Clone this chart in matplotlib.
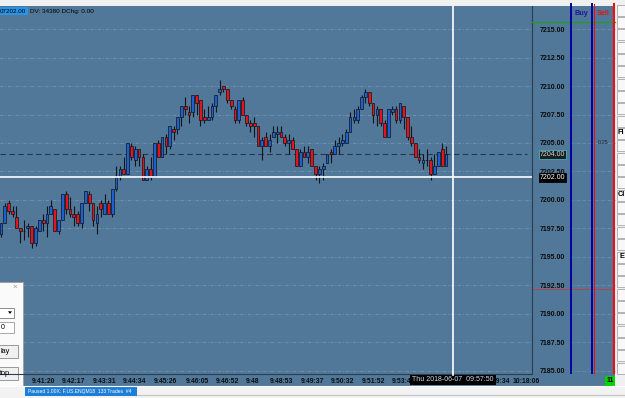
import matplotlib
matplotlib.use("Agg")
import matplotlib.pyplot as plt
from matplotlib.patches import Rectangle, Polygon
import numpy as np

plt.rcParams['font.family'] = ['Liberation Sans', 'DejaVu Sans']

# ---------------- data ----------------
opens = [7197.0, 7198.0, 7199.75, 7199.0, 7198.5, 7197.5, 7197.25, 7197.5, 7197.75, 7196.25,
         7197.25, 7198.25, 7198.0, 7198.75, 7199.25, 7197.25, 7198.25, 7200.5, 7199.25, 7198.75,
         7198.75, 7198.0, 7199.75, 7200.5, 7199.75, 7198.0, 7199.75, 7198.75, 7199.75, 7198.75,
         7201.0, 7202.0, 7202.75, 7202.25, 7204.75, 7203.5, 7204.5, 7203.75, 7201.75, 7202.75,
         7202.0, 7205.0, 7203.75, 7205.5, 7204.75, 7206.25, 7206.25, 7207.25, 7208.25, 7207.75,
         7207.75, 7209.25, 7208.75, 7207.25, 7207.0, 7207.25, 7208.25, 7209.5, 7210.0, 7209.75,
         7208.75, 7208.0, 7207.0, 7208.75, 7207.5, 7206.75, 7206.75, 7206.5, 7204.75, 7205.5,
         7204.75, 7205.5, 7205.75, 7206.0, 7205.5, 7205.0, 7205.25, 7204.5, 7203.0, 7204.25,
         7203.75, 7204.5, 7203.0, 7202.25, 7202.75, 7203.25, 7204.25, 7204.0, 7204.75, 7205.0,
         7205.0, 7206.0, 7207.0, 7207.0, 7208.0, 7209.0, 7209.5, 7208.5, 7207.5, 7208.0,
         7206.75, 7205.5, 7207.75, 7208.0, 7207.0, 7208.25, 7207.25, 7205.5, 7205.0, 7203.75,
         7203.25, 7203.5, 7203.5, 7202.25, 7203.0, 7204.5, 7203.0]
highs = [7198.0, 7199.75, 7200.0, 7199.5, 7199.5, 7197.5, 7198.25, 7198.0, 7197.75, 7197.75,
         7198.25, 7198.75, 7199.5, 7200.0, 7199.25, 7198.25, 7200.5, 7200.75, 7200.25, 7199.5,
         7199.0, 7199.75, 7200.75, 7200.75, 7199.75, 7199.5, 7200.0, 7200.5, 7200.0, 7201.0,
         7203.0, 7203.0, 7203.75, 7205.0, 7205.0, 7204.75, 7204.5, 7204.0, 7203.0, 7203.75,
         7205.0, 7205.25, 7205.5, 7205.75, 7206.5, 7206.5, 7207.25, 7208.25, 7209.0, 7208.25,
         7209.25, 7209.25, 7208.75, 7208.0, 7208.25, 7208.5, 7209.25, 7210.5, 7210.0, 7209.75,
         7208.75, 7208.25, 7208.75, 7209.0, 7207.5, 7207.0, 7207.25, 7206.5, 7205.5, 7206.0,
         7205.75, 7206.5, 7206.5, 7206.5, 7205.75, 7205.75, 7205.5, 7204.5, 7204.5, 7204.75,
         7204.75, 7204.5, 7203.0, 7203.0, 7203.25, 7204.0, 7204.5, 7205.25, 7205.5, 7205.75,
         7206.25, 7207.75, 7208.0, 7208.25, 7209.25, 7209.75, 7209.5, 7208.5, 7208.25, 7208.0,
         7207.0, 7208.0, 7208.25, 7208.25, 7208.5, 7208.25, 7207.25, 7206.5, 7205.0, 7204.5,
         7204.0, 7204.5, 7203.75, 7204.0, 7204.25, 7205.0, 7204.75]
lows = [7196.75, 7198.0, 7198.75, 7198.5, 7197.5, 7196.25, 7196.5, 7196.75, 7195.75, 7196.0,
        7197.25, 7197.25, 7196.75, 7198.75, 7197.25, 7197.0, 7198.25, 7198.75, 7198.5, 7197.75,
        7197.75, 7197.5, 7199.75, 7199.0, 7197.75, 7197.0, 7198.5, 7198.75, 7198.75, 7198.5,
        7200.75, 7201.75, 7202.25, 7202.25, 7203.5, 7203.0, 7203.0, 7201.75, 7201.75, 7201.75,
        7202.0, 7203.75, 7203.75, 7204.0, 7204.5, 7205.25, 7205.75, 7206.5, 7207.5, 7206.75,
        7207.25, 7207.5, 7206.5, 7206.75, 7207.0, 7207.0, 7207.75, 7209.25, 7209.5, 7208.5,
        7208.0, 7206.75, 7206.75, 7207.5, 7206.5, 7206.0, 7205.5, 7204.75, 7203.5, 7204.75,
        7204.25, 7205.5, 7205.0, 7205.5, 7204.75, 7204.0, 7204.5, 7203.0, 7203.0, 7203.75,
        7203.25, 7203.0, 7201.75, 7201.5, 7201.75, 7203.25, 7203.25, 7204.0, 7204.0, 7204.75,
        7205.0, 7206.0, 7206.75, 7206.75, 7208.0, 7208.5, 7208.25, 7206.75, 7206.5, 7206.5,
        7205.5, 7205.5, 7207.5, 7206.75, 7206.75, 7206.25, 7205.25, 7204.75, 7203.75, 7203.25,
        7202.75, 7203.0, 7201.75, 7202.25, 7203.0, 7203.0, 7203.0]
closes = [7198.0, 7199.5, 7199.0, 7198.75, 7197.5, 7197.25, 7197.25, 7197.75, 7196.25, 7197.5,
          7198.25, 7198.0, 7198.75, 7199.5, 7197.25, 7198.25, 7200.5, 7199.25, 7198.75, 7198.5,
          7198.0, 7199.75, 7200.75, 7199.75, 7198.25, 7198.75, 7199.25, 7199.75, 7198.75, 7201.0,
          7202.0, 7202.75, 7202.25, 7205.0, 7203.75, 7204.5, 7203.75, 7201.75, 7202.75, 7202.0,
          7205.0, 7203.75, 7205.5, 7204.75, 7206.5, 7206.0, 7207.25, 7208.25, 7208.0, 7207.5,
          7209.25, 7208.5, 7207.0, 7207.0, 7207.25, 7208.25, 7209.25, 7209.75, 7209.75, 7208.75,
          7208.25, 7207.0, 7208.75, 7207.5, 7206.75, 7206.5, 7206.5, 7204.75, 7205.25, 7204.75,
          7205.25, 7206.0, 7206.0, 7205.5, 7205.0, 7205.25, 7204.5, 7203.0, 7204.25, 7203.75,
          7204.25, 7203.0, 7202.25, 7202.75, 7203.0, 7204.0, 7204.0, 7204.75, 7205.0, 7205.25,
          7206.0, 7207.25, 7207.25, 7208.0, 7209.0, 7209.5, 7208.5, 7207.5, 7208.0, 7206.75,
          7205.5, 7208.0, 7208.0, 7207.0, 7208.5, 7207.25, 7205.5, 7205.0, 7203.75, 7203.5,
          7203.5, 7203.5, 7202.25, 7203.0, 7204.25, 7203.0, 7204.0]

time_pos = [12.13, 19.85, 28.03, 35.8, 43.88, 52.23, 60.1, 66.64, 74.18, 82.2,
            90.1, 98.03, 105.8, 130.6, 137.86]
time_labels = ["9:41:20", "9:42:17", "9:43:31", "9:44:34", "9:45:26", "9:46:05",
               "9:46:52", "9:48", "9:48:53", "9:49:37", "9:50:32", "9:51:52",
               "9:53:45", "9:59:34", "10:18:06"]
price_ticks = [7185.0, 7187.5, 7190.0, 7192.5, 7195.0, 7197.5, 7200.0,
               7202.5, 7205.0, 7207.5, 7210.0, 7212.5, 7215.0]
last_price = 7204.0
cursor_price = 7202.0
cursor_x = 118.8
red_level = 7192.2
cursor_label = "Thu 2018-06-07  09:57:50"
x_range = (0.74, 139.43)
y_range = (7184.82, 7217.02)

# ---------------- style ----------------
BG = '#517899'
UP = '#1f5fd0'
DN = '#e3141c'
EDGE = '#101418'
TXT = '#0c0c0c'

fig = plt.figure(figsize=(6.25, 3.98), dpi=100)
fig.patch.set_facecolor('#f0f0f0')

# background (pixel coordinates)
bg = fig.add_axes([0, 0, 1, 1], zorder=0)
bg.set_xlim(0, 625); bg.set_ylim(398, 0); bg.axis('off')
bg.add_patch(Rectangle((0, 6), 615, 380, fc=BG, ec='none'))
# right button panel
bg.add_patch(Rectangle((615, 0), 10, 386, fc='#f0f0f0', ec='none'))
for k in range(30):
    y0 = 4.5 + k * 12.35
    if y0 > 372:
        break
    bg.add_patch(Rectangle((616.5, y0), 12, 11, fc='#f8f8f8', ec='#a8a8a8', lw=0.6))

# ---------------- candle axes ----------------
ax = fig.add_axes([0, 25 / 398, 532 / 625, 367 / 398], zorder=1)
ax.set_facecolor(BG)
x = np.arange(1, len(opens) + 1)
o = np.array(opens); h = np.array(highs); l = np.array(lows); c = np.array(closes)
cols = [UP if cc > oo else (DN if cc < oo else EDGE) for oo, cc in zip(o, c)]
ax.grid(axis='y', color='#7395b4', lw=0.6, ls=(0, (4, 2, 1, 2)), zorder=0)
ax.vlines(x, l, h, color=EDGE, lw=0.8, zorder=2)
ax.bar(x, np.abs(c - o), bottom=np.minimum(o, c), width=0.72, color=cols,
       edgecolor=EDGE, linewidth=0.5, zorder=3)
ax.axhline(last_price, xmax=0.99, color='#27384a', lw=0.8, ls=(0, (5, 3)), zorder=1)
ax.axhline(cursor_price, color='white', lw=1.2, zorder=4)
ax.axvline(cursor_x, color='white', lw=1.2, zorder=4)
ax.set_xlim(*x_range)
ax.set_ylim(*y_range)
for s in ax.spines.values():
    s.set_visible(False)
ax.yaxis.tick_right()
ax.set_yticks(price_ticks)
ax.set_yticklabels([f"{v:.2f}" for v in price_ticks])
ax.set_xticks(time_pos)
ax.set_xticklabels(time_labels)
ax.tick_params(axis='y', length=0, pad=5.2, labelsize=5, labelcolor=TXT)
ax.tick_params(axis='x', length=0, pad=3.4, labelsize=4.9, labelcolor=TXT)
for t in ax.get_yticklabels() + ax.get_xticklabels():
    t.set_fontweight('bold')

# price boxes
ytr = ax.get_yaxis_transform()
ax.text(1 + 7.5 / 532, last_price, f"{last_price:.2f}", transform=ytr, ha='left', va='center',
        fontsize=5, color='#d8d8d8', clip_on=False, zorder=6,
        bbox=dict(boxstyle='square,pad=0.12', fc='#1c1f22', ec='#3fb6c0', lw=0.6))
ax.text(1 + 7.5 / 532, cursor_price, f"{cursor_price:.2f}", transform=ytr, ha='left', va='center',
        fontsize=5, color='white', clip_on=False, zorder=6,
        bbox=dict(boxstyle='square,pad=0.12', fc='black', ec='black', lw=0.6))
# grid continues in the Buy / Sell columns
for v in price_ticks:
    ax.plot([570 / 532, 615 / 532], [v, v], transform=ytr, color='#7395b4', lw=0.5,
            ls=(0, (4, 2, 1, 2)), clip_on=False, zorder=0)
ax.plot([1, 614 / 532], [red_level, red_level], transform=ytr, color='#c83a3a', lw=0.6,
        clip_on=False, zorder=1)

# ---------------- foreground (pixel coordinates) ----------------
fg = fig.add_axes([0, 0, 1, 1], zorder=2)
fg.set_xlim(0, 625); fg.set_ylim(398, 0); fg.axis('off')

# separators
fg.plot([532, 532], [6, 373], color='#2b3d50', lw=0.8)
fg.plot([0, 532], [373.5, 373.5], color='#2b3d50', lw=0.8)
# buy/sell columns
fg.plot([532, 615], [22, 22], color='#1ea01e', lw=0.9)
for xx in (570.7, 592.3):
    fg.plot([xx, xx], [4, 373], color='#0000a8', lw=1.4)
fg.plot([594.3, 594.3], [4, 373], color='#e81010', lw=0.8)
fg.plot([614.2, 614.2], [4, 373], color='#f01010', lw=1.5)
fg.text(581, 13.5, "Buy", ha='center', va='center', fontsize=5.2, color='#1a1a9a', fontweight='bold')
fg.text(603.5, 13.5, "Sell", ha='center', va='center', fontsize=5.2, color='#d81818', fontweight='bold')
fg.text(603, 143, "0.25", ha='center', va='center', fontsize=4, color='#1e2a36')

# right panel labels (truncated like the reference)
fg.text(617.5, 133, "Fl", ha='left', va='center', fontsize=5.3, fontweight='bold', color='black')
fg.text(617.5, 195, "Cl", ha='left', va='center', fontsize=5.3, fontweight='bold', color='black')
fg.text(619.5, 257, "E", ha='left', va='center', fontsize=5.3, fontweight='bold', color='black')

# header
fg.add_patch(Rectangle((0, 6.8), 27.5, 8.6, fc='#2a93e6', ec='none'))
fg.text(0.2, 11.2, "07202.00", ha='left', va='center', fontsize=4.5, color='black')
fg.text(29.5, 11.2, "DV: 34380 DChg: 0.00", ha='left', va='center', fontsize=4.6, color='black')

# cursor time box
fg.add_patch(Rectangle((410, 374.5), 86, 10.5, fc='black', ec='none'))
fg.text(453, 379.8, cursor_label, ha='center', va='center', fontsize=5, color='#cfe0f5')
fg.plot([453, 453], [373, 374.5], color='white', lw=1.2)

# green counter
fg.add_patch(Rectangle((605, 376), 10, 9.5, fc='#00d400', ec='none'))
fg.text(610, 380.8, "11", ha='center', va='center', fontsize=5, color='black', fontweight='bold')

# status bar
fg.add_patch(Rectangle((0, 386), 625, 12, fc='#f2f2f2', ec='none'))
fg.plot([0, 625], [386.3, 386.3], color='white', lw=0.8)
fg.plot([137, 625], [394.5, 394.5], color='#c4c4c4', lw=0.8)
fg.add_patch(Rectangle((25, 387), 112, 9, fc='#1c7ed6', ec='none'))
fg.text(28, 391.6, "Paused 1.00X: F.US.ENQM18  133 Trades  #4", ha='left', va='center',
        fontsize=3.6, color='white')

# left dialog (partially off-screen; only the visible parts of its texts)
fg.add_patch(Rectangle((-2, 282), 25, 104, fc='#fafafa', ec='#a0a0a0', lw=0.7))
fg.text(14.5, 287.5, "×", ha='center', va='center', fontsize=6, color='#a0a0a0')
fg.add_patch(Rectangle((-2, 308), 16, 9.5, fc='white', ec='#7a7a7a', lw=0.6))
fg.add_patch(Polygon([[8.0, 311.3], [12.0, 311.3], [10.0, 314]], closed=True, fc='black', ec='none'))
fg.add_patch(Rectangle((-2, 322), 16, 11, fc='white', ec='#9a9a9a', lw=0.6))
fg.text(0.3, 327.8, "0", ha='left', va='center', fontsize=5, color='black')
fg.add_patch(Rectangle((-3, 345), 21, 12.5, fc='#f0f0f0', ec='#8a8a8a', lw=0.6))
fg.text(0.3, 351.4, "lay", ha='left', va='center', fontsize=5.3, color='black')
fg.add_patch(Rectangle((-3, 366.5), 21, 13.5, fc='#f0f0f0', ec='#8a8a8a', lw=0.6))
fg.text(0.3, 373.4, "top", ha='left', va='center', fontsize=5.3, color='black')

fig.savefig("out.png", dpi=100, facecolor=fig.get_facecolor())
